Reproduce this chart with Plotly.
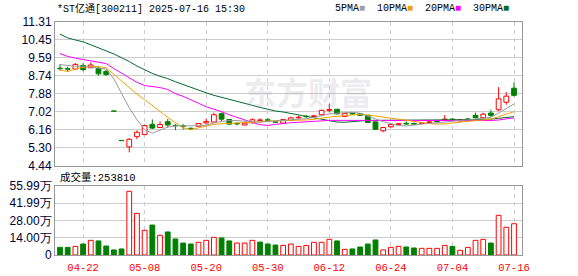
import plotly.graph_objects as go

dates = ["04-17","04-18","04-21","04-22","04-23","04-24","04-25","04-29","04-30","05-06",
         "05-07","05-08","05-09","05-12","05-13","05-14","05-15","05-16","05-19","05-20",
         "05-21","05-22","05-23","05-26","05-27","05-28","05-29","05-30","06-03","06-04",
         "06-05","06-06","06-09","06-10","06-11","06-12","06-13","06-16","06-17","06-18",
         "06-19","06-20","06-23","06-24","06-25","06-26","06-27","06-30","07-01","07-02",
         "07-03","07-04","07-07","07-08","07-09","07-10","07-11","07-14","07-15","07-16"]

opens = [9.10, 9.08, 9.06, 9.23, 9.12, 9.09, 8.95, 7.04, 5.63, 5.33,
         5.82, 5.92, 6.41, 6.26, 6.54, 6.36, 6.34, 6.22, 6.32, 6.48,
         6.52, 6.92, 6.64, 6.45, 6.38, 6.49, 6.60, 6.63, 6.53, 6.47,
         6.60, 6.72, 6.80, 6.79, 6.87, 7.08, 7.13, 6.79, 6.94, 6.92,
         6.84, 6.53, 6.10, 6.29, 6.41, 6.46, 6.45, 6.46, 6.50, 6.56,
         6.62, 6.66, 6.57, 6.67, 6.84, 6.73, 6.95, 7.11, 7.47, 8.14]
highs = [9.30, 9.17, 9.35, 9.33, 9.38, 9.19, 9.01, 7.04, 5.63, 5.75,
         6.12, 6.40, 6.65, 6.55, 6.67, 6.43, 6.43, 6.27, 6.48, 6.68,
         6.97, 6.98, 6.66, 6.52, 6.55, 6.70, 6.70, 6.72, 6.55, 6.66,
         6.78, 6.82, 6.85, 6.86, 7.12, 7.40, 7.15, 6.95, 6.97, 6.95,
         6.86, 6.55, 6.29, 6.42, 6.47, 6.55, 6.50, 6.52, 6.62, 6.60,
         6.86, 6.70, 6.66, 6.70, 6.97, 6.97, 7.11, 8.19, 7.95, 8.42]
lows = [8.98, 8.93, 9.04, 8.95, 9.10, 8.74, 8.73, 7.04, 5.63, 5.07,
        5.70, 5.90, 6.18, 6.24, 6.26, 6.13, 6.16, 6.13, 6.30, 6.40,
        6.50, 6.57, 6.40, 6.36, 6.36, 6.44, 6.55, 6.52, 6.49, 6.45,
        6.58, 6.68, 6.72, 6.76, 6.85, 7.00, 6.88, 6.77, 6.86, 6.82,
        6.47, 6.14, 6.03, 6.27, 6.38, 6.38, 6.38, 6.44, 6.48, 6.47,
        6.58, 6.58, 6.55, 6.60, 6.70, 6.70, 6.76, 7.05, 7.35, 7.74]
closes = [9.07, 9.05, 9.28, 9.03, 9.25, 8.83, 8.80, 7.04, 5.63, 5.70,
          6.03, 6.35, 6.23, 6.40, 6.38, 6.34, 6.32, 6.20, 6.45, 6.55,
          6.87, 6.66, 6.42, 6.43, 6.47, 6.63, 6.62, 6.60, 6.51, 6.64,
          6.72, 6.75, 6.78, 6.82, 7.08, 7.12, 6.91, 6.93, 6.91, 6.84,
          6.50, 6.17, 6.26, 6.40, 6.44, 6.43, 6.42, 6.48, 6.53, 6.54,
          6.66, 6.63, 6.64, 6.65, 6.73, 6.90, 6.84, 7.63, 7.76, 7.80]
# volume in 万手
volumes = [6.2, 6.2, 7.0, 8.9, 11.9, 11.4, 7.3, 4.1, 4.9, 51.7,
           33.8, 20.0, 24.3, 16.0, 18.7, 13.0, 9.7, 8.9, 10.3, 11.9,
           14.3, 13.8, 11.4, 9.7, 9.7, 11.9, 10.5, 8.9, 8.1, 7.8,
           8.9, 7.0, 7.8, 10.3, 10.3, 12.7, 11.4, 4.6, 4.9, 6.5,
           8.9, 12.2, 4.1, 6.2, 7.0, 6.5, 5.7, 5.4, 5.4, 5.4,
           7.8, 7.0, 3.8, 6.2, 11.9, 12.7, 9.7, 32.2, 22.5, 25.381]

ma5 = [9.27, 9.22, 9.19, 9.20, 9.16, 9.11, 9.06, 8.59, 7.91, 7.20,
       6.64, 6.15, 5.99, 6.14, 6.28, 6.34, 6.33, 6.33, 6.34, 6.37,
       6.48, 6.55, 6.59, 6.59, 6.57, 6.52, 6.51, 6.55, 6.57, 6.60,
       6.62, 6.64, 6.68, 6.74, 6.83, 6.91, 6.94, 6.97, 6.99, 6.94,
       6.82, 6.67, 6.54, 6.43, 6.35, 6.34, 6.39, 6.43, 6.46, 6.48,
       6.53, 6.57, 6.60, 6.62, 6.66, 6.71, 6.75, 6.95, 7.17, 7.39]
ma10 = [9.01, 8.94, 9.06, 9.14, 9.18, 9.17, 9.12, 8.80, 8.47, 8.17,
        7.86, 7.59, 7.29, 7.03, 6.74, 6.49, 6.24, 6.16, 6.24, 6.33,
        6.41, 6.44, 6.46, 6.46, 6.47, 6.50, 6.53, 6.57, 6.58, 6.59,
        6.57, 6.58, 6.62, 6.65, 6.72, 6.76, 6.79, 6.83, 6.87, 6.89,
        6.86, 6.81, 6.75, 6.71, 6.65, 6.58, 6.53, 6.49, 6.45, 6.42,
        6.43, 6.48, 6.52, 6.54, 6.57, 6.62, 6.66, 6.78, 6.90, 7.02]
ma20 = [9.80, 9.66, 9.58, 9.52, 9.47, 9.41, 9.32, 9.08, 8.85, 8.62,
        8.42, 8.27, 8.22, 8.17, 8.08, 7.88, 7.75, 7.60, 7.42, 7.25,
        7.14, 7.02, 6.87, 6.74, 6.61, 6.50, 6.39, 6.36, 6.41, 6.46,
        6.49, 6.51, 6.54, 6.56, 6.59, 6.60, 6.60, 6.60, 6.59, 6.59,
        6.58, 6.58, 6.58, 6.58, 6.58, 6.58, 6.58, 6.58, 6.58, 6.58,
        6.58, 6.58, 6.58, 6.58, 6.58, 6.58, 6.59, 6.62, 6.67, 6.72]
ma30 = [10.73, 10.55, 10.45, 10.36, 10.22, 10.08, 9.93, 9.78, 9.60, 9.42,
        9.20, 9.01, 8.85, 8.71, 8.60, 8.45, 8.31, 8.18, 8.05, 7.92,
        7.80, 7.71, 7.61, 7.51, 7.42, 7.32, 7.22, 7.13, 7.05, 7.00,
        6.93, 6.86, 6.78, 6.71, 6.64, 6.58, 6.52, 6.51, 6.54, 6.58,
        6.60, 6.60, 6.60, 6.60, 6.61, 6.61, 6.62, 6.63, 6.63, 6.63,
        6.62, 6.62, 6.63, 6.64, 6.64, 6.65, 6.66, 6.70, 6.74, 6.78]

date_ticks = ["04-22", "05-08", "05-20", "05-30", "06-12", "06-24", "07-04", "07-16"]
price_ticktext = ["4.44", "5.30", "6.16", "7.02", "7.88", "8.74", "9.59", "10.45", "11.31"]
vol_tickvals = [0, 14.00, 28.00, 41.99, 55.99]
vol_ticktext = ["0", "14.00万", "28.00万", "41.99万", "55.99万"]

RED = "#ff0000"
GREEN = "#008000"

n = len(dates)
def is_up(i):
    if closes[i] != opens[i]:
        return closes[i] > opens[i]
    prev = closes[i - 1] if i > 0 else opens[i]
    return closes[i] >= prev

up = [is_up(i) for i in range(n)]
body_base = [min(opens[i], closes[i]) for i in range(n)]
body_h = [max(abs(closes[i] - opens[i]), 0.012) for i in range(n)]
body_fill = ["#ffffff" if u else GREEN for u in up]
body_line = [RED if u else GREEN for u in up]

def wick_xy(flag):
    xs, ys = [], []
    for i in range(n):
        if up[i] != flag:
            continue
        top = max(opens[i], closes[i])
        bot = min(opens[i], closes[i])
        if highs[i] > top:
            xs += [dates[i], dates[i], None]
            ys += [highs[i], top, None]
        if lows[i] < bot:
            xs += [dates[i], dates[i], None]
            ys += [bot, lows[i], None]
    return xs, ys

vol_up = [(closes[i] >= (closes[i-1] if i > 0 else opens[i])) for i in range(n)]

fig = go.Figure()

fig.add_trace(go.Bar(x=dates, y=body_h, base=body_base, width=0.62,
                     marker=dict(color=body_fill, line=dict(color=body_line, width=1)),
                     xaxis="x", yaxis="y", hoverinfo="skip", showlegend=False))

for flag, col in [(True, RED), (False, GREEN)]:
    wx, wy = wick_xy(flag)
    fig.add_trace(go.Scatter(x=wx, y=wy, mode="lines", line=dict(color=col, width=1),
                             xaxis="x", yaxis="y", hoverinfo="skip", showlegend=False))

for vals, col in [(ma30, "#006b2e"), (ma20, "#ff00ff"), (ma10, "#f5a000"), (ma5, "#999999")]:
    fig.add_trace(go.Scatter(x=dates, y=vals, mode="lines", line=dict(color=col, width=1),
                             xaxis="x", yaxis="y", hoverinfo="skip", showlegend=False))

fig.add_trace(go.Bar(x=dates, y=volumes, width=0.62,
                     marker=dict(color=["#ffffff" if u else GREEN for u in vol_up],
                                 line=dict(color=[RED if u else GREEN for u in vol_up], width=1)),
                     xaxis="x2", yaxis="y2", hoverinfo="skip", showlegend=False))

GRID = "#cccccc"
FRAME = "#999999"
tickfont = dict(family="Liberation Sans, Arial, sans-serif", size=12, color="#000033")

common_x = dict(type="category", range=[-0.65, 60.04], categoryorder="array", categoryarray=dates,
                tickmode="array", tickvals=date_ticks, showgrid=True, gridcolor=GRID,
                griddash="4px,4px", gridwidth=1, showline=True, linecolor=FRAME, linewidth=1,
                mirror=True, zeroline=False, ticks="", fixedrange=True, automargin=False)

fig.update_layout(
    width=578, height=276,
    margin=dict(l=55, r=56, t=22, b=21),
    paper_bgcolor="white", plot_bgcolor="white",
    barmode="overlay", showlegend=False,
    xaxis=dict(domain=[0, 1], anchor="y", showticklabels=False, **common_x),
    xaxis2=dict(domain=[0, 1], anchor="y2", showticklabels=True, ticktext=date_ticks,
                ticklabelstandoff=2,
                tickfont=dict(family="Liberation Mono, monospace", size=10.5, color=RED), **common_x),
    yaxis=dict(domain=[0.3841, 1], range=[4.44, 11.31], tickmode="array",
               tickvals=[float(t) for t in price_ticktext], ticktext=price_ticktext,
               showgrid=True, gridcolor=GRID, gridwidth=1, showline=True, linecolor=FRAME,
               mirror=True, zeroline=False, ticks="", tickfont=tickfont, fixedrange=True,
               automargin=False),
    yaxis2=dict(domain=[0, 0.2961], range=[0, 55.99], tickmode="array",
                tickvals=vol_tickvals, ticktext=vol_ticktext,
                showgrid=True, gridcolor=GRID, gridwidth=1, showline=True, linecolor=FRAME,
                mirror=True, zeroline=False, ticks="", tickfont=tickfont, fixedrange=True,
                automargin=False),
)

cjk_mono = "Liberation Mono, Noto Sans CJK SC, monospace"
fig.add_annotation(xref="paper", yref="paper", x=0.0, y=1.06, xanchor="left", yanchor="middle",
                   text="*ST亿通[300211] 2025-07-16 15:30", showarrow=False,
                   font=dict(family=cjk_mono, size=10, color="#000000"))
legend_txt = ("5PMA<span style='color:#a0a0a0'>■</span>  10PMA<span style='color:#f5a000'>■</span>  "
              "20PMA<span style='color:#ff00ff'>■</span>  30PMA<span style='color:#006b2e'>■</span>")
fig.add_annotation(xref="paper", yref="paper", x=0.976, y=1.06, xanchor="right", yanchor="middle",
                   text=legend_txt, showarrow=False,
                   font=dict(family="Liberation Mono, monospace", size=10, color="#000000"))
fig.add_annotation(xref="paper", yref="paper", x=0.006, y=0.3326, xanchor="left", yanchor="middle",
                   text="成交量:253810", showarrow=False,
                   font=dict(family=cjk_mono, size=10.5, color="#000000"))
fig.add_annotation(xref="paper", yref="paper", x=0.542, y=0.706, xanchor="center", yanchor="middle",
                   text="东方财富", showarrow=False,
                   font=dict(family="Noto Sans CJK SC", size=32, color="rgba(170,170,190,0.22)", weight="bold"))

fig.write_html("out.html")
